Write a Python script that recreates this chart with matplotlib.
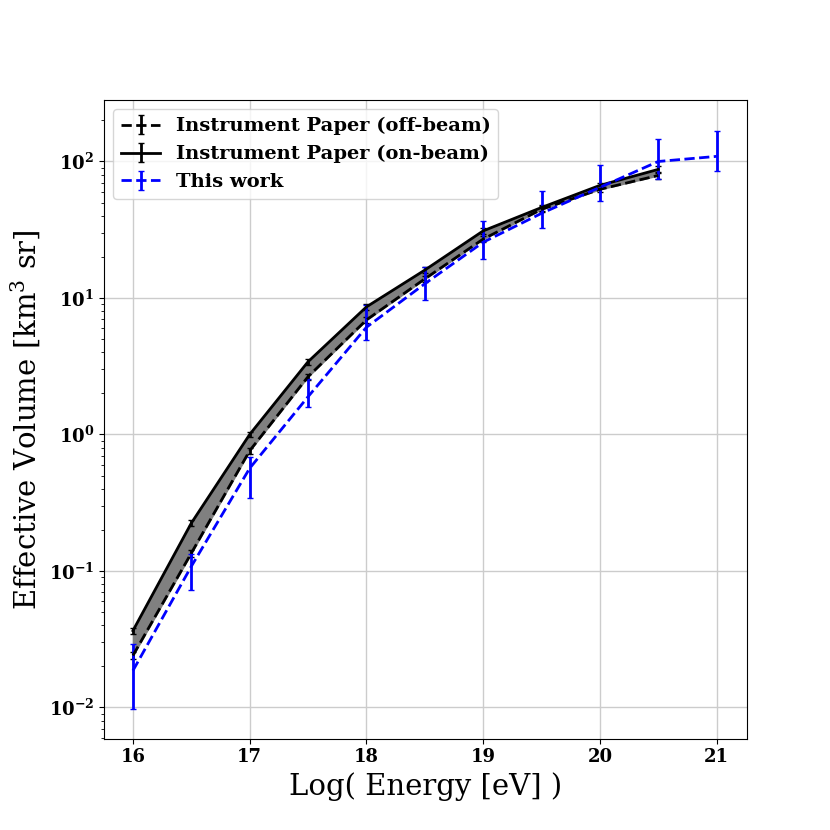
import numpy as np
import matplotlib
matplotlib.use("Agg")
import matplotlib.pyplot as plt

plt.rcParams['font.family'] = 'serif'
plt.rcParams['font.serif'] = ['DejaVu Serif']
plt.rcParams['font.weight'] = 'bold'
plt.rcParams['mathtext.default'] = 'regular'

# Instrument paper values
energy_paper = [16.0, 16.5, 17.0, 17.5, 18.0, 18.5, 19.0, 19.5, 20.0, 20.5]
on_beam = [0.0365, 0.224, 1.0, 3.41, 8.6, 16.0, 31.0, 46.0, 66.8, 87.5]
off_beam = [0.024, 0.135, 0.76, 2.65, 6.9, 13.8, 27.0, 44.6, 62.5, 79.0]
on_beam_err = [0.002, 0.012, 0.05, 0.17, 0.4, 0.8, 1.5, 2.3, 3.3, 4.4]
off_beam_err = [0.0015, 0.008, 0.04, 0.13, 0.35, 0.7, 1.3, 2.2, 3.1, 4.0]

# This work
energy_work = [16.0, 16.5, 17.0, 17.5, 18.0, 18.5, 19.0, 19.5, 20.0, 20.5, 21.0]
work = [0.0186, 0.108, 0.565, 1.89, 6.1, 12.7, 25.6, 41.7, 64.6, 100.0, 109.0]
work_hi = [0.0293, 0.133, 0.68, 2.56, 8.9, 16.8, 36.5, 61.0, 95.0, 147.0, 168.0]
work_lo = [0.0097, 0.073, 0.34, 1.58, 4.9, 9.7, 19.3, 32.5, 51.0, 75.0, 84.5]

work = np.array(work)
work_err = [work - np.array(work_lo), np.array(work_hi) - work]

fig, ax = plt.subplots(figsize=(8.3, 8.3), dpi=100)

ax.fill_between(energy_paper, off_beam, on_beam, color='gray')
ax.errorbar(energy_paper, off_beam, yerr=off_beam_err, color='black', linestyle='--',
            linewidth=2, capsize=2, label='Instrument Paper (off-beam)')
ax.errorbar(energy_paper, on_beam, yerr=on_beam_err, color='black', linestyle='-',
            linewidth=2, capsize=2, label='Instrument Paper (on-beam)')
ax.errorbar(energy_work, work, yerr=work_err, color='blue', linestyle='--',
            linewidth=2, capsize=2, label='This work')

ax.set_yscale('log')
ax.set_xlim(15.75, 21.26)
ax.set_ylim(0.0059, 284)
ax.grid(True, which='major', color='#cccccc', linewidth=1)
ax.set_axisbelow(True)
ax.tick_params(labelsize=13)

ax.set_xlabel('Log( Energy [eV] )', fontsize=21, fontweight='normal')
ax.set_ylabel('Effective Volume [km$^3$ sr]', fontsize=21, fontweight='normal')
ax.legend(loc='upper left', fontsize=14)

plt.savefig('out.png', dpi=100)
